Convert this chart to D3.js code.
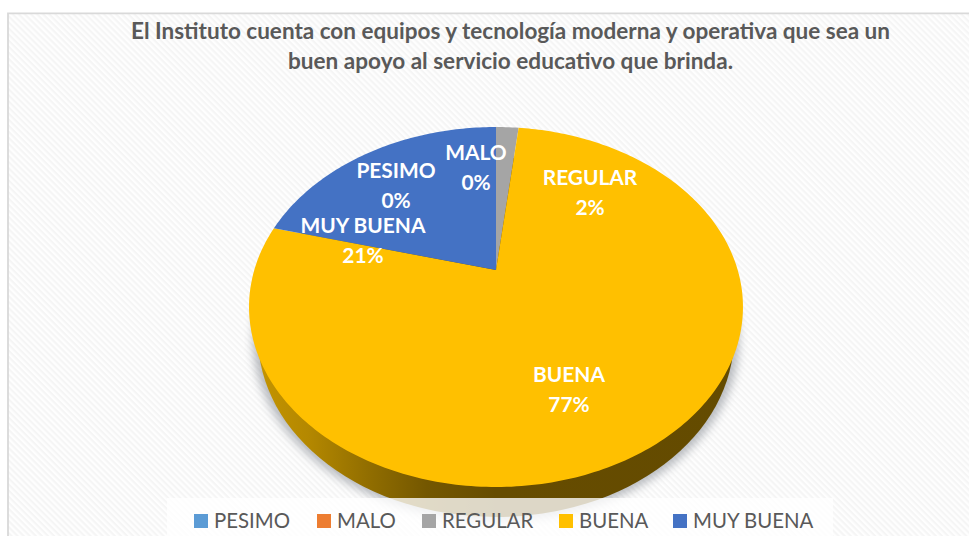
<!DOCTYPE html>
<html><head><meta charset="utf-8">
<script src="https://cdn.jsdelivr.net/npm/d3@7/dist/d3.min.js"></script>
<style>html,body{margin:0;padding:0;background:#fff}svg{display:block}text{font-family:Lato,Carlito,sans-serif}</style>
</head><body><svg id="c" width="969" height="536"></svg>
<script>
const titleLines = ["El Instituto cuenta con equipos y tecnología moderna y operativa que sea un","buen apoyo al servicio educativo que brinda."];
const categories = ["PESIMO","MALO","REGULAR","BUENA","MUY BUENA"];
const values = [0,0,1.8,77.3,20.9];
const colors = ["#5B9BD5","#ED7D31","#A5A5A5","#FFC000","#4472C4"];
// label placement (centre x, first baseline y) — layout only
const labelLayout = [[396,178],[476,160],[590,185],[569,382],[363,233]];
const legendLayout = [194,317,422,559,673];

const W=969,H=536, apex={x:496,y:270}, k=0.2055, A=241.7, B=172.4;
const svg=d3.select("#c");
const defs=svg.append("defs");
const pat=defs.append("pattern").attr("id","stripes").attr("patternUnits","userSpaceOnUse")
  .attr("width",4.3).attr("height",4.3).attr("patternTransform","rotate(45)");
pat.append("rect").attr("width",4.3).attr("height",4.3).attr("fill","#fefefe");
pat.append("rect").attr("width",4.3).attr("height",2.1).attr("fill","#f5f5f5");
const grad=defs.append("linearGradient").attr("id","side").attr("gradientUnits","userSpaceOnUse")
  .attr("x1",249).attr("x2",743).attr("y1",0).attr("y2",0);
[[0,"#c79600"],[.12,"#b48800"],[.25,"#8f6c00"],[.36,"#745700"],[.5,"#664c00"],[1,"#644b00"]]
  .forEach(([o,c])=>grad.append("stop").attr("offset",o).attr("stop-color",c));
defs.append("filter").attr("id","blur").attr("x","-10%").attr("y","-10%").attr("width","120%").attr("height","120%")
  .append("feGaussianBlur").attr("stdDeviation",5);

// perspective projection of the unit disc onto the page
const project=(a,r=1)=>{const u=r*Math.sin(a),v=r*Math.cos(a),w=1+k*v;return [apex.x+A*u/w,apex.y-B*v/w];};
const line=d3.line();
const ring=(a0,a1)=>d3.range(0,1.0001,1/Math.max(2,Math.ceil((a1-a0)*60))).map(t=>project(a0+(a1-a0)*t));

svg.append("rect").attr("width",W).attr("height",H).attr("fill","#fff");
svg.append("rect").attr("x",8).attr("y",13).attr("width",W).attr("height",H).attr("fill","url(#stripes)");
svg.append("path").attr("d",`M8,${H}V13.3H${W}`).attr("fill","none").attr("stroke","#d9d9d9").attr("stroke-width",1.8);

// title
svg.append("g").selectAll("text").data(titleLines).join("text")
  .attr("x",510.5).attr("y",(d,i)=>39+i*29.7).attr("text-anchor","middle")
  .attr("font-size",22.4).attr("font-weight",700).attr("fill","#595959").text(d=>d)
  .attr("textLength",(d,i)=>[759,445][i]).attr("lengthAdjust","spacingAndGlyphs");

const cy=307, ry=180, rx=247;
// shadow + side wall
svg.append("ellipse").attr("cx",496).attr("cy",cy+33).attr("rx",rx-4).attr("ry",ry+1)
  .attr("fill","#8a8f96").attr("opacity",.6).attr("filter","url(#blur)");
svg.append("ellipse").attr("cx",496).attr("cy",cy+30).attr("rx",rx-9).attr("ry",ry).attr("fill","url(#side)");

// top face
const arcs=d3.pie().sort(null).value(d=>d)(values);
svg.append("g").selectAll("path").data(arcs.filter(d=>d.value>0)).join("path")
  .attr("d",d=>line([[apex.x,apex.y],...ring(d.startAngle,d.endAngle)])+"Z")
  .attr("fill",d=>colors[d.index]);

// legend
svg.append("rect").attr("x",167).attr("y",498).attr("width",666).attr("height",38).attr("fill","#fff").attr("opacity",.78);
const lg=svg.append("g");
categories.forEach((c,i)=>{
  const lx=legendLayout[i];
  lg.append("rect").attr("x",lx).attr("y",514).attr("width",14).attr("height",14).attr("fill",colors[i]);
  lg.append("text").attr("x",lx+20).attr("y",528).attr("font-size",20.4).attr("fill","#595959").text(c);
});

// data labels
const lab=svg.append("g").attr("fill","#fff").attr("font-size",20.9).attr("font-weight",700).attr("text-anchor","middle");
categories.forEach((c,i)=>{
  const [x,y]=labelLayout[i];
  lab.append("text").attr("x",x).attr("y",y).text(c);
  lab.append("text").attr("x",x).attr("y",y+29.5).text(d3.format(".0f")(values[i])+"%");
});
</script></body></html>
